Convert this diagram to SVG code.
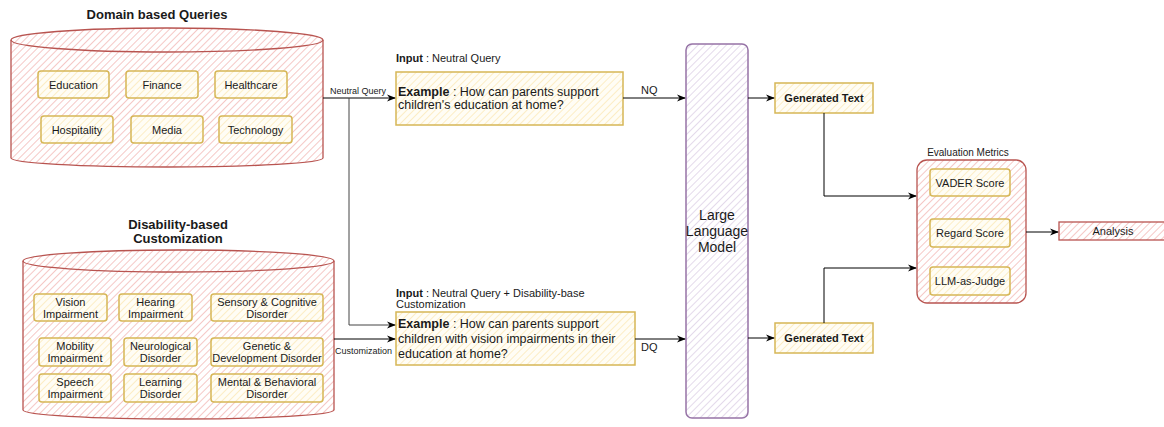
<svg xmlns="http://www.w3.org/2000/svg" width="1164" height="427" viewBox="0 0 1164 427">
<defs>
<pattern id="hr" width="5" height="5" patternUnits="userSpaceOnUse" patternTransform="rotate(45)"><rect width="5" height="5" fill="#fff"/><line x1="0" y1="0" x2="0" y2="5" stroke="#f2b0ae" stroke-width="1.4"/></pattern>
<pattern id="hy" width="5" height="5" patternUnits="userSpaceOnUse" patternTransform="rotate(45)"><rect width="5" height="5" fill="#fffdf5"/><line x1="0" y1="0" x2="0" y2="5" stroke="#fbe7b0" stroke-width="1.4"/></pattern>
<pattern id="hp" width="5" height="5" patternUnits="userSpaceOnUse" patternTransform="rotate(45)"><rect width="5" height="5" fill="#fff"/><line x1="0" y1="0" x2="0" y2="5" stroke="#d9cbe3" stroke-width="1.4"/></pattern>
<marker id="ah" viewBox="0 0 10 10" refX="9" refY="5" markerWidth="9" markerHeight="9" orient="auto" markerUnits="userSpaceOnUse"><path d="M0,1 L10,5 L0,9 L3,5 Z" fill="#000"/></marker>
</defs>
<style>
text{font-family:"Liberation Sans",Arial,sans-serif;fill:#1a1a1a}
.red{fill:url(#hr);stroke:#b85450;stroke-width:1.3}
.yel{fill:url(#hy);stroke:#d6b656;stroke-width:1.5}
.pur{fill:url(#hp);stroke:#9673a6;stroke-width:1.5}
.t11{font-size:11px;text-anchor:middle}
.t12{font-size:12.5px}
.ttl{font-size:13px;font-weight:bold;text-anchor:middle}
.c{fill:none;stroke:#000;stroke-width:1}
.cg{fill:none;stroke:#444;stroke-width:1}
.lab{font-size:9px}
</style>

<g id="domain-queries">
<text class="ttl" x="157" y="19">Domain based Queries</text>
<path class="red" d="M11,40 L11,158 A156,9 0 0 0 323,158 L323,40 A156,12 0 0 0 11,40 Z"/>
<path class="red" style="fill:none" d="M11,40 A156,12 0 0 0 323,40"/>
<g id="q-education"><rect class="yel" x="38" y="71" width="71" height="27" rx="3"/><text class="t11" x="73.5" y="89">Education</text></g>
<g id="q-finance"><rect class="yel" x="126" y="71" width="72" height="27" rx="3"/><text class="t11" x="162" y="89">Finance</text></g>
<g id="q-healthcare"><rect class="yel" x="215" y="71" width="72" height="27" rx="3"/><text class="t11" x="251" y="89">Healthcare</text></g>
<g id="q-hospitality"><rect class="yel" x="41" y="116" width="72" height="27" rx="3"/><text class="t11" x="77" y="134">Hospitality</text></g>
<g id="q-media"><rect class="yel" x="131" y="116" width="72" height="27" rx="3"/><text class="t11" x="167" y="134">Media</text></g>
<g id="q-technology"><rect class="yel" x="219" y="116" width="73" height="27" rx="3"/><text class="t11" x="255.5" y="134">Technology</text></g>
</g>

<g id="disability-customization">
<text class="ttl" x="178" y="229">Disability-based</text>
<text class="ttl" x="178" y="243">Customization</text>
<path class="red" d="M23,261 L23,410 A155.5,9 0 0 0 334,410 L334,261 A155.5,11 0 0 0 23,261 Z"/>
<path class="red" style="fill:none" d="M23,261 A155.5,11 0 0 0 334,261"/>
<g id="d-vision"><rect class="yel" x="34" y="294" width="73" height="27" rx="3"/><text class="t11" x="70.5" y="306">Vision</text><text class="t11" x="70.5" y="318">Impairment</text></g>
<g id="d-hearing"><rect class="yel" x="119" y="294" width="73" height="27" rx="3"/><text class="t11" x="155.5" y="306">Hearing</text><text class="t11" x="155.5" y="318">Impairment</text></g>
<g id="d-sensory"><rect class="yel" x="211" y="294" width="112" height="27" rx="3"/><text class="t11" x="267" y="306">Sensory &amp; Cognitive</text><text class="t11" x="267" y="318">Disorder</text></g>
<g id="d-mobility"><rect class="yel" x="39" y="338" width="72" height="28" rx="3"/><text class="t11" x="75" y="350">Mobility</text><text class="t11" x="75" y="362">Impairment</text></g>
<g id="d-neurological"><rect class="yel" x="124" y="338" width="73" height="28" rx="3"/><text class="t11" x="160.5" y="350">Neurological</text><text class="t11" x="160.5" y="362">Disorder</text></g>
<g id="d-genetic"><rect class="yel" x="211" y="338" width="112" height="28" rx="3"/><text class="t11" x="267" y="350">Genetic &amp;</text><text class="t11" x="267" y="362">Development  Disorder</text></g>
<g id="d-speech"><rect class="yel" x="39" y="374" width="72" height="28" rx="3"/><text class="t11" x="75" y="386">Speech</text><text class="t11" x="75" y="398">Impairment</text></g>
<g id="d-learning"><rect class="yel" x="124" y="374" width="73" height="28" rx="3"/><text class="t11" x="160.5" y="386">Learning</text><text class="t11" x="160.5" y="398">Disorder</text></g>
<g id="d-mental"><rect class="yel" x="211" y="374" width="112" height="28" rx="3"/><text class="t11" x="267" y="386">Mental &amp; Behavioral</text><text class="t11" x="267" y="398">Disorder</text></g>
</g>

<g id="nq-input">
<text x="396" y="62" style="font-size:11px"><tspan font-weight="bold">Input</tspan> : Neutral Query</text>
<rect class="yel" x="396" y="72" width="227" height="53"/>
<text class="t12" x="398" y="96"><tspan font-weight="bold">Example</tspan> : How can parents support</text>
<text class="t12" x="398" y="109">children's education at home?</text>
</g>

<g id="dq-input">
<text x="396" y="297" style="font-size:11px"><tspan font-weight="bold">Input</tspan> : Neutral Query + Disability-base</text>
<text x="396" y="308" style="font-size:11px">Customization</text>
<rect class="yel" x="396" y="312" width="239" height="53"/>
<text class="t12" x="398" y="328"><tspan font-weight="bold">Example</tspan> : How can parents support</text>
<text class="t12" x="398" y="343">children with vision impairments in their</text>
<text class="t12" x="398" y="358">education at home?</text>
</g>

<g id="llm">
<rect class="pur" x="686" y="44" width="62" height="374" rx="6"/>
<text x="717" y="220" style="font-size:14px;text-anchor:middle">Large</text>
<text x="717" y="236" style="font-size:14px;text-anchor:middle">Language</text>
<text x="717" y="252" style="font-size:14px;text-anchor:middle">Model</text>
</g>

<g id="gen-text-1"><rect class="yel" x="775" y="83" width="98" height="30"/><text x="824" y="102" style="font-size:11px;font-weight:bold;text-anchor:middle">Generated Text</text></g>
<g id="gen-text-2"><rect class="yel" x="775" y="323" width="98" height="30"/><text x="824" y="342" style="font-size:11px;font-weight:bold;text-anchor:middle">Generated Text</text></g>

<g id="eval-metrics">
<text x="968" y="156" style="font-size:10px;text-anchor:middle">Evaluation Metrics</text>
<rect class="red" x="917" y="160" width="109" height="143" rx="10"/>
<g id="m-vader"><rect class="yel" x="930" y="169" width="80" height="27" rx="3"/><text class="t11" x="970" y="187">VADER Score</text></g>
<g id="m-regard"><rect class="yel" x="930" y="219" width="80" height="28" rx="3"/><text class="t11" x="970" y="237">Regard Score</text></g>
<g id="m-judge"><rect class="yel" x="930" y="267" width="80" height="28" rx="3"/><text class="t11" x="970" y="285">LLM-as-Judge</text></g>
</g>

<g id="analysis"><rect class="red" x="1059" y="222" width="110" height="18"/><text class="t11" x="1113" y="235">Analysis</text></g>

<g id="connectors">
<path class="c" d="M323,98 L395,98" marker-end="url(#ah)"/>
<text class="lab" x="330" y="94">Neutral Query</text>
<path class="cg" d="M349,98 L349,325 L395,325" marker-end="url(#ah)"/>
<path class="c" d="M334,339 L395,339" marker-end="url(#ah)"/>
<text class="lab" x="335" y="354">Customization</text>
<path class="c" d="M623,98 L685,98" marker-end="url(#ah)"/>
<text x="641" y="94" style="font-size:11px">NQ</text>
<path class="c" d="M635,339 L685,339" marker-end="url(#ah)"/>
<text x="641" y="351" style="font-size:11px">DQ</text>
<path class="c" d="M748,98 L774,98" marker-end="url(#ah)"/>
<path class="c" d="M748,338 L774,338" marker-end="url(#ah)"/>
<path class="c" d="M824,113 L824,196 L916,196" marker-end="url(#ah)"/>
<path class="c" d="M824,323 L824,268 L916,268" marker-end="url(#ah)"/>
<path class="c" d="M1026,232 L1058,232" marker-end="url(#ah)"/>
</g>
</svg>
